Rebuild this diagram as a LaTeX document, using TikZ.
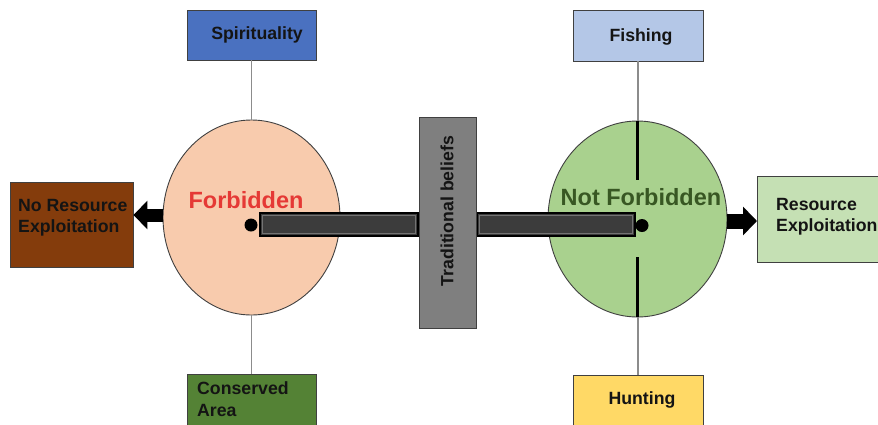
\documentclass[tikz,border=0pt]{standalone}
\usepackage{fontspec}
\setmainfont{Liberation Sans}
\usetikzlibrary{arrows.meta,shapes.geometric}
\definecolor{spiritc}{HTML}{4A71C0}
\definecolor{consc}{HTML}{548235}
\definecolor{norec}{HTML}{843C0C}
\definecolor{lcirc}{HTML}{F8CBAD}
\definecolor{tradc}{HTML}{7F7F7F}
\definecolor{rcirc}{HTML}{A9D18E}
\definecolor{nfc}{HTML}{385723}
\definecolor{reexc}{HTML}{C5E0B4}
\definecolor{fishc}{HTML}{B4C7E7}
\definecolor{huntc}{HTML}{FFD966}
\definecolor{forbc}{HTML}{E53935}
\definecolor{barc}{HTML}{3C3C3C}
\definecolor{boxline}{HTML}{404040}
\begin{document}
\begin{tikzpicture}[x=1pt,y=-1pt,
  box/.style={draw=boxline, line width=0.9pt, inner sep=0pt, rectangle},
  lbl/.style={font=\fontsize{17.7}{21.5}\selectfont\bfseries, text=black!92, inner sep=0pt},
  big/.style={font=\fontsize{23.5}{26}\selectfont\bfseries, inner sep=0pt},
  circ/.style={ellipse, draw=black!75, line width=0.9pt, inner sep=0pt},
  greyline/.style={draw=black!45, line width=1.2pt},
  blackline/.style={draw=black, line width=2.2pt},
  bigarrow/.style={draw=black, line width=13pt, -{Triangle[length=14pt,width=28pt]}},
  barbox/.style={rectangle, fill=barc, draw=black, line width=1.3pt, inner sep=0pt},
  dot/.style={circle, fill=black, inner sep=0pt, minimum size=13pt}]
\useasboundingbox (0,0) rectangle (878,424);
\fill[white] (0,0) rectangle (878,424);

% circles
\node[circ, fill=lcirc, minimum width=177pt, minimum height=195pt] (lc) at (251.5,217.5) {};
\node[circ, fill=rcirc, minimum width=179pt, minimum height=196pt] (rc) at (637.5,219) {};

% boxes
\node[box, fill=spiritc, minimum width=129pt, minimum height=50pt] (spirit) at (251.5,35) {};
\node[lbl] (spirittxt) at (257,35) {Spirituality};
\node[box, fill=consc, minimum width=129pt, minimum height=60pt, anchor=north] (cons) at (251.5,374) {};
\node[lbl, align=left, anchor=west] (constxt) at (197,399) {Conserved\\Area};
\node[box, fill=norec, minimum width=123pt, minimum height=85pt] (nore) at (71.5,224.5) {};
\node[lbl, align=left, anchor=west] (noretxt) at (18,217.5) {No Resource\\Exploitation};
\node[box, fill=fishc, minimum width=130pt, minimum height=51pt] (fish) at (638,35.5) {};
\node[lbl] (fishtxt) at (641,37) {Fishing};
\node[box, fill=huntc, minimum width=130pt, minimum height=60pt, anchor=north] (hunt) at (638,375) {};
\node[lbl] (hunttxt) at (642,400) {Hunting};
\node[box, fill=reexc, minimum width=140pt, minimum height=86pt, anchor=west] (reex) at (757,219) {};
\node[lbl, align=left, anchor=west] (reextxt) at (776,216.5) {Resource\\Exploitation};

% connectors
\draw[greyline] (spirit.south) -- (lc.north);
\draw[greyline] (cons.north) -- (lc.south);
\draw[greyline] (fish.south) -- (fish.south |- rc.north);
\draw[greyline] (hunt.north) -- (hunt.north |- rc.south);
\draw[blackline] (rc.north) -- ([yshift=-59pt]rc.north);
\draw[blackline] (rc.south) -- ([yshift=60pt]rc.south);

% texts in circles
\node[big, text=forbc] (forb) at (246,200) {Forbidden};
\node[big, text=nfc] (nforb) at (641,197) {Not Forbidden};

% arrows
\draw[bigarrow] ([yshift=2.5pt]lc.west) -- ([yshift=2.5pt]lc.west -| nore.east);
\draw[bigarrow, line width=15pt] ([yshift=-2pt]rc.east) -- ([yshift=-2pt]rc.east -| reex.west);

% bars
\node[barbox, minimum width=158pt, minimum height=23pt] (lbar) at (339,224.5) {};
\node[barbox, minimum width=158pt, minimum height=23pt] (rbar) at (556,224.5) {};
\draw[black!55, line width=0.7pt] ([xshift=3pt,yshift=-3pt]lbar.north west) rectangle ([xshift=-3pt,yshift=3pt]lbar.south east);
\draw[black!55, line width=0.7pt] ([xshift=3pt,yshift=-3pt]rbar.north west) rectangle ([xshift=-3pt,yshift=3pt]rbar.south east);

% traditional beliefs
\node[box, fill=tradc, minimum width=57pt, minimum height=211pt] (trad) at (447.5,222.5) {};
\node[lbl, rotate=90] (tradtxt) at (447,211) {Traditional beliefs};

% dots
\node[dot] (ldot) at (251,225) {};
\node[dot] (rdot) at (642,225.5) {};
\end{tikzpicture}
\end{document}
